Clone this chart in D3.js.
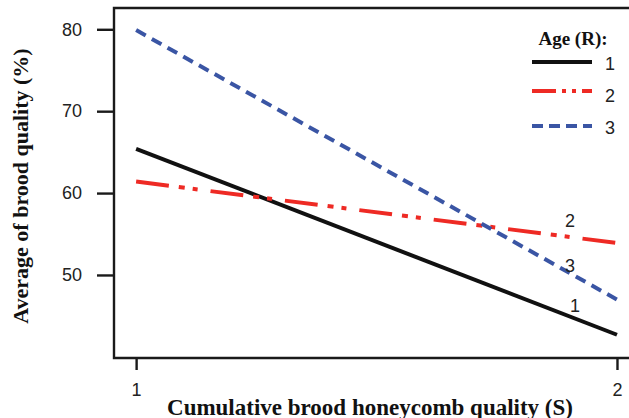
<!DOCTYPE html>
<html lang="en">
<head>
<meta charset="UTF-8">
<title>Brood quality by age</title>
<script src="https://cdn.jsdelivr.net/npm/d3@7"></script>
<style>
  body { margin: 0; background: #fff; }
  svg { display: block; }
</style>
</head>
<body>
<script>
    // values
    const xValues = [1, 2];
    const ageLabels = ["1", "2", "3"];
    const age1 = [65.4, 42.7];
    const age2 = [61.4, 53.9];
    const age3 = [79.9, 47.0];
    const yTicks = [50, 60, 70, 80];
    const xTicks = [1, 2];

    const width = 629, height = 418;
    const plotLeft = 114, plotTop = 8, plotBottom = 358, plotRight = 629;
    const numFont = "18px 'Liberation Sans', Arial, sans-serif";
    const titleFont = "bold 22px 'Liberation Serif', 'Times New Roman', serif";

    const svg = d3.select("body").append("svg")
        .attr("width", width)
        .attr("height", height);

    const x = d3.scaleLinear().domain([0.954, 2.025]).range([plotLeft, plotRight]);
    const y = d3.scaleLinear().domain([39.86, 82.6]).range([plotBottom, plotTop]);

    const series = [
        { name: ageLabels[0], values: age1, color: "#111111", width: 4, dash: null },
        { name: ageLabels[1], values: age2, color: "#ee2a24", width: 4, dash: "33,10,6,8,5,13" },
        { name: ageLabels[2], values: age3, color: "#3a55a4", width: 4, dash: "11,7" }
    ];

    // frame: top, left and bottom (right side is cropped)
    svg.append("path")
        .attr("d", `M${plotRight},${plotTop}H${plotLeft}V${plotBottom}H${plotRight}`)
        .attr("fill", "none")
        .attr("stroke", "#1a1a1a")
        .attr("stroke-width", 2.4);

    // y axis
    const yAxis = svg.append("g")
        .attr("transform", `translate(${plotLeft},0)`)
        .call(d3.axisLeft(y).tickValues(yTicks).tickSize(17).tickPadding(15));
    yAxis.select(".domain").remove();
    yAxis.selectAll("line").attr("stroke", "#1a1a1a").attr("stroke-width", 2.4);
    yAxis.selectAll("text")
        .attr("fill", "#222")
        .style("font", numFont);

    // x axis
    const xAxis = svg.append("g")
        .attr("transform", `translate(0,${plotBottom})`)
        .call(d3.axisBottom(x).tickValues(xTicks).tickFormat(d3.format("d")).tickSize(12).tickPadding(13));
    xAxis.select(".domain").remove();
    xAxis.selectAll("line").attr("stroke", "#1a1a1a").attr("stroke-width", 2.4);
    xAxis.selectAll("text")
        .attr("fill", "#222")
        .style("font", numFont);

    // lines
    const line = d3.line()
        .x((d, i) => x(xValues[i]))
        .y(d => y(d));

    svg.append("g")
        .selectAll("path")
        .data(series)
        .join("path")
        .attr("d", d => line(d.values))
        .attr("fill", "none")
        .attr("stroke", d => d.color)
        .attr("stroke-width", d => d.width)
        .attr("stroke-dasharray", d => d.dash);

    // labels at the line ends
    const endLabelPos = [[575, 306], [570, 221], [570, 266]];
    svg.append("g")
        .selectAll("text")
        .data(series)
        .join("text")
        .attr("x", (d, i) => endLabelPos[i][0])
        .attr("y", (d, i) => endLabelPos[i][1])
        .attr("dy", "0.35em")
        .attr("text-anchor", "middle")
        .attr("fill", "#222")
        .style("font", numFont)
        .text(d => d.name);

    // legend
    const legend = svg.append("g");
    legend.append("text")
        .attr("x", 573).attr("y", 45)
        .attr("text-anchor", "middle")
        .attr("fill", "#111")
        .style("font", "bold 19px 'Liberation Serif', 'Times New Roman', serif")
        .text("Age (R):");
    const legendY = [62, 91, 126];
    series.forEach((s, i) => {
        legend.append("line")
            .attr("x1", 532).attr("x2", 592)
            .attr("y1", legendY[i]).attr("y2", legendY[i])
            .attr("stroke", s.color)
            .attr("stroke-width", s.width)
            .attr("stroke-dasharray", i === 1 ? "24,6,4,6,4,6" : (i === 2 ? "11,6" : null));
        legend.append("text")
            .attr("x", 610).attr("y", legendY[i] + (i === 1 ? 5 : 2))
            .attr("dy", "0.35em")
            .attr("text-anchor", "middle")
            .attr("fill", "#222")
            .style("font", numFont)
            .text(s.name);
    });

    // axis titles
    svg.append("text")
        .attr("x", 370).attr("y", 415)
        .attr("text-anchor", "middle")
        .attr("fill", "#111")
        .style("font", titleFont)
        .style("font-size", "23px")
        .text("Cumulative brood honeycomb quality (S)");

    svg.append("text")
        .attr("transform", "translate(28,186) rotate(-90)")
        .attr("text-anchor", "middle")
        .attr("fill", "#111")
        .style("font", titleFont)
        .text("Average of brood quality (%)");
</script>
</body>
</html>
